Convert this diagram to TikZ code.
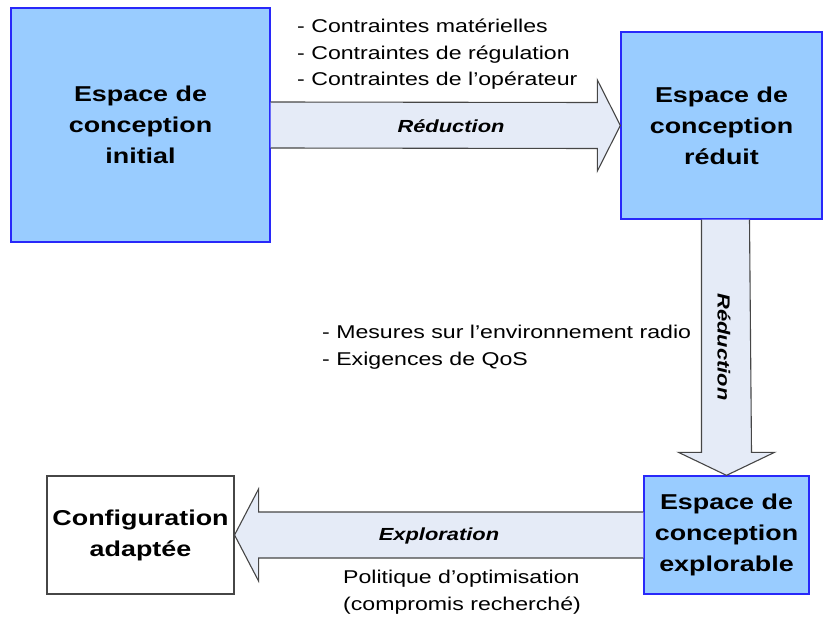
\documentclass[tikz,border=0pt]{standalone}
\usepackage{fontspec}
\setmainfont{Liberation Sans}[FakeStretch=1.25]
\usetikzlibrary{calc}
\definecolor{bleuboite}{RGB}{153,204,255}
\definecolor{bordbleu}{RGB}{40,40,250}
\definecolor{fondfleche}{RGB}{229,235,247}
\definecolor{bordgris}{RGB}{70,70,70}

\begin{document}
\begin{tikzpicture}[x=1pt, y=1pt,
        espace/.style={draw=bordbleu, line width=1.3pt, fill=bleuboite, align=center,
            font=\fontsize{21.5}{31}\selectfont\bfseries},
        config/.style={draw=bordgris, line width=1.1pt, fill=white, align=center,
            font=\fontsize{21.5}{31}\selectfont\bfseries},
        fleche/.style={draw=bordgris, line width=1.1pt, fill=fondfleche, line join=miter},
        texte/.style={inner sep=0pt, align=left, font=\fontsize{18.5}{26.5}\selectfont},
        titre/.style={inner sep=0pt, font=\fontsize{17.5}{20}\selectfont\bfseries\itshape}]
        \useasboundingbox (0,0) rectangle (824,622);
        % les espaces de conception
        \node[espace, minimum width=259, minimum height=234] (initial) at (140.5,497) {Espace de\\conception\\initial};
        \node[espace, minimum width=201, minimum height=187] (reduit) at (721.5,496.5) {Espace de\\conception\\r\'eduit};
        \node[espace, minimum width=165, minimum height=118] (explorable) at (726.5,87) {Espace de\\conception\\explorable};
        \node[config, minimum width=187, minimum height=118] (adaptee) at (140.5,87) {Configuration\\adapt\'ee};
        % les fleches
        \filldraw[fleche] ($(initial.east)+(0,23)$) -- ($(reduit.west)+(-23,23)$) -- ++(0,22.5) -- (reduit.west)
            -- ($(reduit.west)+(-23,-45.5)$) -- ++(0,22.5) -- ($(initial.east)+(0,-23)$);
        \coordinate (haut) at (explorable.north |- reduit.south);
        \filldraw[fleche] ($(haut)+(-25,0)$) -- ($(explorable.north)+(-25,23)$) -- ++(-23,0) -- (explorable.north)
            -- ($(explorable.north)+(48,23)$) -- ++(-23,0) -- ($(haut)+(23,0)$);
        \filldraw[fleche] ($(explorable.west)+(0,23)$) -- ($(adaptee.east)+(24,23)$) -- ++(0,23) -- (adaptee.east)
            -- ($(adaptee.east)+(24,-46)$) -- ++(0,23) -- ($(explorable.west)+(0,-23)$);
        % les textes
        \node[titre, anchor=base] (red1) at (451,489) {R\'eduction};
        \node[titre, anchor=center, rotate=-90] (red2) at (724,275) {R\'eduction};
        \node[titre, anchor=base] (explo) at (439,82) {Exploration};
        \node[texte, anchor=north west] (contr) at (297,603) {- Contraintes mat\'erielles\\- Contraintes de r\'egulation\\- Contraintes de l'op\'erateur};
        \node[texte, anchor=north west] (mesures) at (322,297) {- Mesures sur l'environnement radio\\- Exigences de QoS};
        \node[texte, anchor=north] (politique) at (462,52) {Politique d'optimisation\\(compromis recherch\'e)};
\end{tikzpicture}
\end{document}
